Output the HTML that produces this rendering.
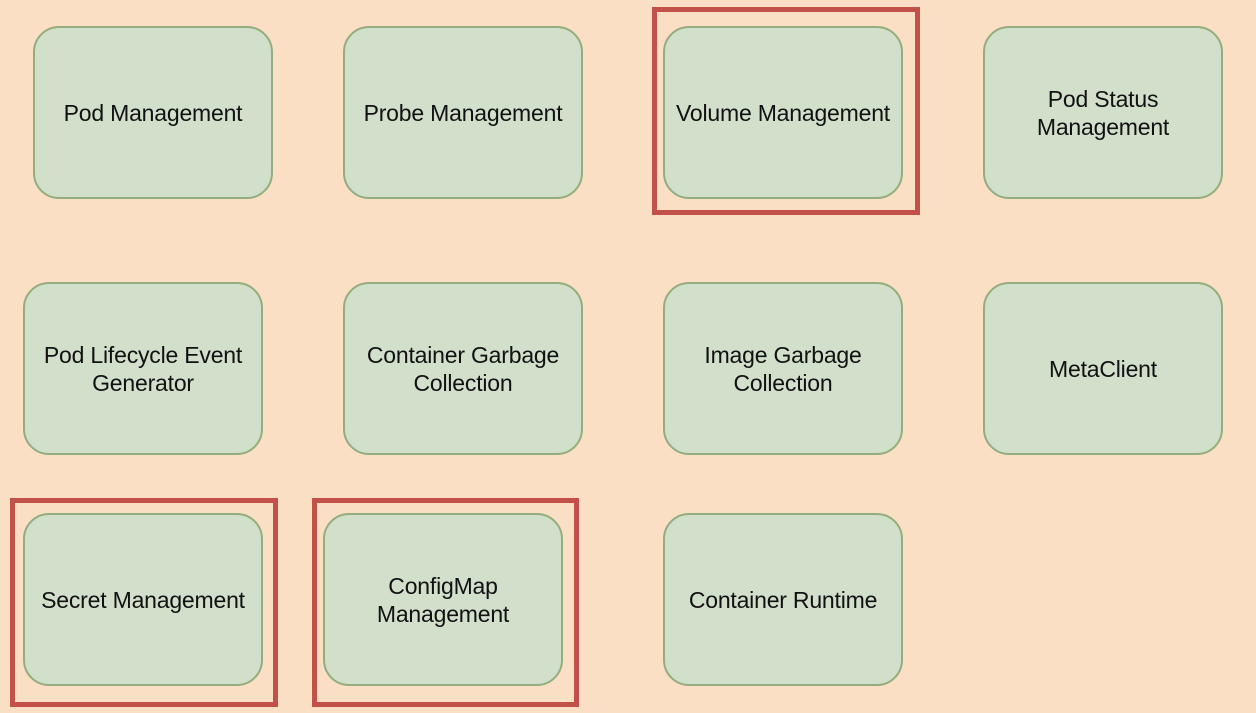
<!DOCTYPE html>
<html><head><style>
body{margin:0;width:1256px;height:713px;background:#fbdfc5;position:relative;overflow:hidden;font-family:"Liberation Sans",sans-serif}
.b{position:absolute;background:#d1dfcb;border:2px solid #93ae7c;border-radius:26px;display:flex;align-items:center;justify-content:center;text-align:center;font-size:23px;color:#111;line-height:28px;box-sizing:border-box;letter-spacing:-0.2px}
.r{position:absolute;border:5px solid #c2514a;box-sizing:border-box}
</style></head><body>
<div class="r" style="left:652px;top:7px;width:268px;height:208px"></div>
<div class="r" style="left:10px;top:498px;width:268px;height:209px"></div>
<div class="r" style="left:312px;top:498px;width:267px;height:209px"></div>
<div class="b" style="left:33px;top:26px;width:240px;height:173px">Pod Management</div>
<div class="b" style="left:343px;top:26px;width:240px;height:173px">Probe Management</div>
<div class="b" style="left:663px;top:26px;width:240px;height:173px">Volume Management</div>
<div class="b" style="left:983px;top:26px;width:240px;height:173px">Pod Status<br>Management</div>
<div class="b" style="left:23px;top:282px;width:240px;height:173px">Pod Lifecycle Event<br>Generator</div>
<div class="b" style="left:343px;top:282px;width:240px;height:173px">Container Garbage<br>Collection</div>
<div class="b" style="left:663px;top:282px;width:240px;height:173px">Image Garbage<br>Collection</div>
<div class="b" style="left:983px;top:282px;width:240px;height:173px">MetaClient</div>
<div class="b" style="left:23px;top:513px;width:240px;height:173px">Secret Management</div>
<div class="b" style="left:323px;top:513px;width:240px;height:173px">ConfigMap<br>Management</div>
<div class="b" style="left:663px;top:513px;width:240px;height:173px">Container Runtime</div>
</body></html>
